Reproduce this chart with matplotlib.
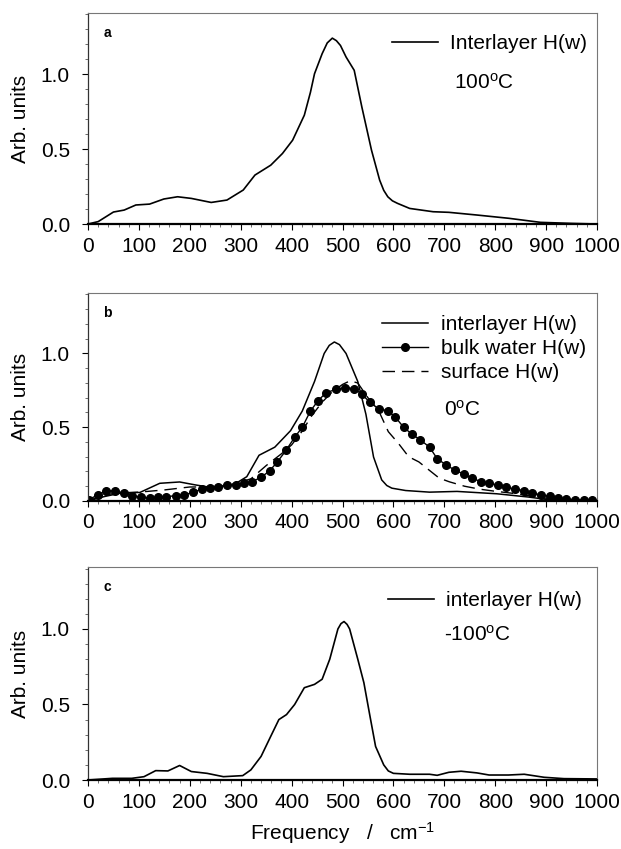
import matplotlib
matplotlib.use("Agg")
import matplotlib.pyplot as plt
from matplotlib.ticker import MultipleLocator

plt.rcParams['font.family'] = ['Liberation Sans', 'DejaVu Sans']
plt.rcParams['mathtext.fontset'] = 'custom'
plt.rcParams['mathtext.rm'] = 'Liberation Sans'
plt.rcParams['mathtext.it'] = 'Liberation Sans'

# ---------------- data ----------------
# Panel a: interlayer, 100 C
a_x = [0, 20, 50, 71, 94, 121, 149, 176, 203, 242, 273, 305, 328, 359, 382, 402,
       425, 437, 445, 460, 470, 480, 488, 496, 507, 523, 538, 557, 573, 581, 589,
       598, 608, 632, 678, 709, 764, 827, 889, 951, 1000]
a_y = [0.0, 0.016, 0.08, 0.093, 0.127, 0.133, 0.167, 0.182, 0.171, 0.144, 0.16,
       0.227, 0.327, 0.393, 0.471, 0.56, 0.727, 0.88, 1.004, 1.138, 1.21, 1.242,
       1.225, 1.193, 1.116, 1.027, 0.782, 0.493, 0.293, 0.225, 0.182, 0.155,
       0.138, 0.104, 0.082, 0.078, 0.06, 0.038, 0.011, 0.004, 0.0]

# Panel b: interlayer, 0 C
b_int_x = [0, 32, 63, 102, 141, 180, 211, 250, 289, 312, 336, 367, 398, 421, 445,
           464, 474, 484, 494, 507, 530, 546, 561, 577, 587, 597, 624, 671, 725,
           803, 865, 904, 1000]
b_int_y = [0.0, 0.03, 0.053, 0.058, 0.12, 0.129, 0.109, 0.087, 0.116, 0.165, 0.31,
           0.365, 0.477, 0.61, 0.81, 1.0, 1.055, 1.078, 1.06, 1.0, 0.81, 0.588,
           0.298, 0.143, 0.105, 0.087, 0.071, 0.06, 0.065, 0.049, 0.027, 0.009, 0.0]

# Panel b: bulk water, 0 C
b_bulk_x = [2, 19, 36, 53, 71, 86, 104, 121, 137, 153, 172, 189, 206, 223, 240, 256,
            273, 290, 306, 322, 340, 357, 372, 389, 406, 421, 437, 452, 468, 488,
            505, 523, 538, 554, 571, 589, 604, 620, 636, 653, 671, 686, 704, 721,
            738, 755, 772, 787, 805, 822, 839, 856, 873, 889, 907, 924, 939, 956,
            974, 990]
b_bulk_y = [0.009, 0.042, 0.069, 0.069, 0.053, 0.036, 0.027, 0.02, 0.027, 0.029,
            0.036, 0.042, 0.058, 0.08, 0.087, 0.098, 0.107, 0.109, 0.12, 0.131,
            0.16, 0.205, 0.265, 0.343, 0.432, 0.5, 0.61, 0.68, 0.735, 0.757, 0.768,
            0.762, 0.724, 0.668, 0.624, 0.612, 0.568, 0.5, 0.454, 0.414, 0.365,
            0.287, 0.243, 0.209, 0.183, 0.154, 0.131, 0.12, 0.109, 0.094, 0.08,
            0.071, 0.053, 0.042, 0.031, 0.02, 0.013, 0.009, 0.004, 0.004]

# Panel b: surface, 0 C
b_surf_x = [0, 30, 60, 100, 150, 200, 240, 280, 320, 350, 380, 400, 420, 440, 460,
            480, 500, 515, 530, 550, 570, 590, 610, 630, 650, 670, 690, 710, 740,
            770, 800, 840, 880, 920, 960, 1000]
b_surf_y = [0.0, 0.04, 0.055, 0.06, 0.075, 0.095, 0.095, 0.11, 0.15, 0.24, 0.32,
            0.38, 0.47, 0.58, 0.67, 0.74, 0.79, 0.815, 0.8, 0.7, 0.62, 0.47, 0.39,
            0.3, 0.265, 0.21, 0.155, 0.13, 0.1, 0.08, 0.066, 0.05, 0.028, 0.01,
            0.003, 0.0]

# Panel c: interlayer, -100 C
c_x = [0, 48, 86, 110, 133, 157, 180, 203, 234, 266, 304, 320, 340, 359, 375, 390,
       406, 425, 445, 460, 475, 491, 497, 503, 509, 514, 530, 542, 554, 565, 581,
       590, 600, 632, 671, 686, 709, 733, 764, 788, 826, 857, 896, 935, 1000]
c_y = [0.0, 0.011, 0.011, 0.022, 0.062, 0.06, 0.096, 0.056, 0.044, 0.022, 0.029,
       0.067, 0.156, 0.289, 0.4, 0.433, 0.5, 0.611, 0.633, 0.667, 0.8, 1.0, 1.035,
       1.049, 1.03, 1.0, 0.8, 0.644, 0.422, 0.222, 0.1, 0.06, 0.044, 0.038, 0.038,
       0.031, 0.051, 0.058, 0.047, 0.033, 0.033, 0.038, 0.018, 0.009, 0.007]

x_ticks = [0, 100, 200, 300, 400, 500, 600, 700, 800, 900, 1000]
y_ticks = [0.0, 0.5, 1.0]
panel_letters = ['a', 'b', 'c']
temps = ['100$^{\\mathrm{o}}$C', '0$^{\\mathrm{o}}$C', '-100$^{\\mathrm{o}}$C']

# ---------------- figure ----------------
W, H = 621, 849
fig = plt.figure(figsize=(W / 100, H / 100), dpi=100)

def frac_axes(top, bottom, left=88, right=597):
    return fig.add_axes([left / W, 1 - bottom / H, (right - left) / W, (bottom - top) / H])

axes = [frac_axes(13, 224), frac_axes(293, 501), frac_axes(567, 780)]
TFS = 15
LFS = 15

for i, ax in enumerate(axes):
    ax.set_xlim(0, 1000)
    ax.set_ylim(0, 1.41)
    ax.set_xticks(x_ticks)
    ax.set_xticklabels([str(t) for t in x_ticks])
    ax.set_yticks(y_ticks)
    ax.set_yticklabels(['%.1f' % t for t in y_ticks])
    ax.xaxis.set_minor_locator(MultipleLocator(20))
    ax.yaxis.set_minor_locator(MultipleLocator(0.1))
    ax.tick_params(axis='both', which='major', direction='out', length=4, width=0.8,
                   labelsize=TFS, color='black')
    ax.tick_params(axis='x', which='major', pad=5)
    ax.tick_params(axis='y', which='major', pad=9)
    ax.tick_params(axis='both', which='minor', direction='out', length=2, width=0.6,
                   color='#555555')
    for s in ['top', 'right']:
        ax.spines[s].set_color('#777777')
        ax.spines[s].set_linewidth(0.8)
    ax.spines['left'].set_color('#333333')
    ax.spines['left'].set_linewidth(0.9)
    ax.spines['bottom'].set_color('black')
    ax.spines['bottom'].set_linewidth(1.6)
    ax.set_ylabel('Arb. units', fontsize=15, labelpad=8)
    ax.text(0.03, 0.905, panel_letters[i], transform=ax.transAxes, fontsize=10,
            fontweight='bold', ha='left', va='center')

leg_kw = dict(loc='upper left', frameon=False, fontsize=LFS, handlelength=2.2,
              handletextpad=0.6, borderaxespad=0, borderpad=0, numpoints=1,
              labelspacing=0.25)

# Panel a
ax = axes[0]
ax.plot(a_x, a_y, color='black', lw=1.2, label='Interlayer H(w)')
ax.legend(bbox_to_anchor=(0.597, 0.90), **leg_kw)
ax.text(0.719, 0.67, temps[0], transform=ax.transAxes, fontsize=LFS, ha='left', va='center')

# Panel b
ax = axes[1]
ax.plot(b_int_x, b_int_y, color='black', lw=1.1, label='interlayer H(w)')
ax.plot(b_bulk_x, b_bulk_y, color='black', lw=1.0, marker='o', markersize=5.5,
        label='bulk water H(w)')
ax.plot(b_surf_x, b_surf_y, color='black', lw=1.0, linestyle=(0, (9, 5)),
        label='surface H(w)')
ax.legend(bbox_to_anchor=(0.578, 0.895), **leg_kw)
ax.text(0.70, 0.44, temps[1], transform=ax.transAxes, fontsize=LFS, ha='left', va='center')

# Panel c
ax = axes[2]
ax.plot(c_x, c_y, color='black', lw=1.2, label='interlayer H(w)')
ax.legend(bbox_to_anchor=(0.589, 0.885), **leg_kw)
ax.text(0.70, 0.681, temps[2], transform=ax.transAxes, fontsize=LFS, ha='left', va='center')
ax.set_xlabel('Frequency   /   cm$^{-1}$', fontsize=15, labelpad=6)

fig.savefig('out.png', dpi=100)
